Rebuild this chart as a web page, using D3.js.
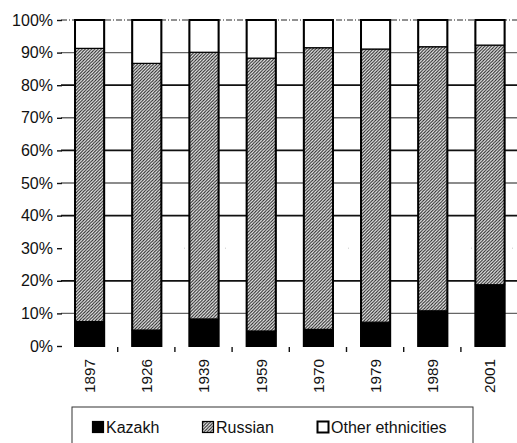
<!DOCTYPE html>
<html><head><meta charset="utf-8">
<script src="https://cdn.jsdelivr.net/npm/d3@7"></script>
<style>
body{margin:0;background:#fff;}
svg{display:block;font-family:"Liberation Sans",Arial,sans-serif;}
</style></head>
<body><svg id="c" width="517" height="443"></svg>
<script>
const years = ["1897","1926","1939","1959","1970","1979","1989","2001"];
const kazakh = [7.5, 4.9, 8.3, 4.6, 5.1, 7.3, 10.8, 18.8];
const russian = [83.8, 81.8, 81.8, 83.7, 86.4, 83.8, 81.0, 73.5];
const other = [8.7, 13.3, 9.9, 11.7, 8.5, 8.9, 8.2, 7.7];
const seriesNames = ["Kazakh", "Russian", "Other ethnicities"];
const yTicks = [0,10,20,30,40,50,60,70,80,90,100];

const svg = d3.select("#c");
const defs = svg.append("defs");
const pat = defs.append("pattern").attr("id","hatch").attr("patternUnits","userSpaceOnUse")
  .attr("width",3.2).attr("height",3.2);
pat.append("rect").attr("width",3.2).attr("height",3.2).attr("fill","#f2f2f2");
pat.append("path").attr("d","M-0.8,0.8 L0.8,-0.8 M0,3.2 L3.2,0 M2.4,4 L4,2.4")
  .attr("stroke","#222").attr("stroke-width",1.0);

const L = 61, R = 518.6, T = 20, B = 346;
const x = d3.scaleBand().domain(years).range([L, R]).paddingInner(0.49).paddingOuter(0.245);
const y = d3.scaleLinear().domain([0,100]).range([B, T]);

// gridlines
const grid = svg.append("g");
yTicks.filter(t => t > 0).forEach(t => {
  const line = grid.append("line").attr("x1", L).attr("x2", 517).attr("y1", y(t)).attr("y2", y(t));
  if (t === 100) line.attr("stroke","#222").attr("stroke-width",1).attr("stroke-dasharray","6,2,1,2");
  else if (t === 30) line.attr("stroke","#bbb").attr("stroke-width",0.8).attr("stroke-dasharray","1,40");
  else if (t % 20 === 0) line.attr("stroke","#111").attr("stroke-width",1.8);
  else line.attr("stroke","#666").attr("stroke-width",1.4);
});

// y axis
const yAxis = d3.axisLeft(y).tickValues(yTicks).tickFormat(d => d + "%").tickSize(5).tickPadding(4);
const ya = svg.append("g").attr("transform", `translate(${L+1},0)`).call(yAxis);
ya.select(".domain").remove();
ya.selectAll(".tick line").attr("stroke","#111").attr("stroke-width",1.4);
ya.selectAll(".tick text").attr("font-size",16).attr("fill","#111").attr("font-family","Liberation Sans, Arial, sans-serif");

// x axis
const xa = svg.append("g").attr("transform", `translate(0,${B})`).call(d3.axisBottom(x).tickSize(0).tickPadding(6));
xa.select(".domain").remove();
xa.selectAll(".tick text").attr("font-size",15.3).attr("fill","#111")
  .attr("font-family","Liberation Sans, Arial, sans-serif")
  .attr("transform","rotate(-90)").attr("text-anchor","end").attr("dy","0.35em").attr("x",-13).attr("y",0);
// category boundary ticks
svg.append("g").selectAll("line").data(years.slice(1)).join("line")
  .attr("x1", d => x(d) - x.step()*x.paddingInner()/2 - 0.5)
  .attr("x2", d => x(d) - x.step()*x.paddingInner()/2 - 0.5)
  .attr("y1", B + 1).attr("y2", B + 6).attr("stroke","#111").attr("stroke-width",1.4);

// stacked bars
const rows = years.map((yr,i) => ({year: yr, Kazakh: kazakh[i], Russian: russian[i], "Other ethnicities": other[i]}));
const stack = d3.stack().keys(seriesNames)(rows);
const fills = {"Kazakh":"#000","Russian":"url(#hatch)","Other ethnicities":"#fff"};
stack.forEach(s => {
  svg.append("g").selectAll("rect").data(s).join("rect")
    .attr("x", d => x(d.data.year)).attr("width", x.bandwidth())
    .attr("y", d => y(d[1])).attr("height", d => y(d[0]) - y(d[1]))
    .attr("fill", fills[s.key]).attr("stroke","#000").attr("stroke-width",1.2);
});
// outer outline
svg.append("g").selectAll("rect").data(rows).join("rect")
  .attr("x", d => x(d.year)).attr("width", x.bandwidth())
  .attr("y", y(100)).attr("height", y(0) - y(100))
  .attr("fill","none").attr("stroke","#000").attr("stroke-width",2);

// legend
const lg = svg.append("g");
lg.append("rect").attr("x",72).attr("y",407).attr("width",401).attr("height",50)
  .attr("fill","#fff").attr("stroke","#333").attr("stroke-width",1);
const legX = [92, 202, 317];
seriesNames.forEach((n,i) => {
  const g = lg.append("g").attr("transform",`translate(${legX[i]},421)`);
  g.append("rect").attr("x",0.5).attr("y",0.5).attr("width",11).attr("height",11)
    .attr("fill", fills[n]).attr("stroke","#000").attr("stroke-width", i===2 ? 2 : 1.2);
  g.append("text").attr("x",14).attr("y",11.5).attr("font-size",16).attr("fill","#111").text(n);
});
</script></body></html>
